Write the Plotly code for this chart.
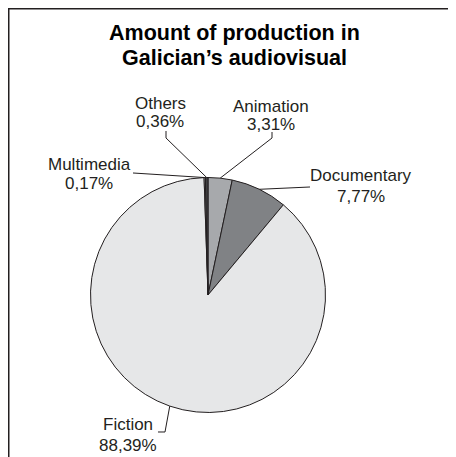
import math
import plotly.graph_objects as go

# the page body adds an 8px margin, so the figure is 8px smaller
W, H = 448, 449
OFF = 8

# Data (clockwise from 12 o'clock)
categories = ["Animation", "Documentary", "Fiction", "Multimedia", "Others"]
shares = [3.31, 7.77, 88.39, 0.17, 0.36]
label_texts = ["3,31%", "7,77%", "88,39%", "0,17%", "0,36%"]
colors = ["#a7a9ac", "#808285", "#e6e7e8", "#f4f4f5", "#414042"]

INK = "#231f20"
FONT = "Liberation Sans, Arial, sans-serif"

# pie geometry in screen pixels
cx, cy, r = 208, 295, 117.5


def px(x):
    return (x - OFF) / W


def py(y):
    return 1 - (y - OFF) / H


def edge_point(name):
    i = categories.index(name)
    start = sum(shares[:i])
    mid = (start + shares[i] / 2) / sum(shares) * 2 * math.pi
    return cx + r * math.sin(mid), cy - r * math.cos(mid)


fig = go.Figure(go.Pie(
    labels=categories,
    values=shares,
    sort=False,
    direction="clockwise",
    rotation=0,
    textinfo="none",
    hoverinfo="label+percent",
    marker=dict(colors=colors, line=dict(color=INK, width=1)),
    domain=dict(x=[px(cx - r), px(cx + r)], y=[py(cy + r), py(cy - r)]),
    showlegend=False,
))

# label line centres and leader-line points near the label (screen pixels)
label_layout = {
    "Others": dict(x=160, y1=102, y2=121, path=[(166, 131), (166, 138)]),
    "Animation": dict(x=271, y1=106, y2=123, path=[(272, 132), (272, 138)]),
    "Multimedia": dict(x=89, y1=163, y2=183, path=[(133, 173)]),
    "Documentary": dict(x=361, y1=174, y2=195, path=[(310, 187)]),
    "Fiction": dict(x=128, y1=423, y2=444, path=[(158, 432), (165, 432)]),
}


def text_ann(x, y, text, size, color=INK):
    return dict(x=px(x), y=py(y), xref="paper", yref="paper", text=text,
                showarrow=False, xanchor="center", yanchor="middle",
                font=dict(family=FONT, size=size, color=color))


annotations = []
shapes = []
for name, txt in zip(categories, label_texts):
    lay = label_layout[name]
    annotations.append(text_ann(lay["x"], lay["y1"] + 1, name, 17))
    annotations.append(text_ann(lay["x"], lay["y2"] + 1, txt, 17))
    pts = lay["path"] + [edge_point(name)]
    d = "M " + " L ".join(f"{px(a):.5f},{py(b):.5f}" for a, b in pts)
    shapes.append(dict(type="path", path=d, xref="paper", yref="paper",
                       line=dict(color=INK, width=1)))

# frame: top and left edges only
shapes.append(dict(type="line", xref="paper", yref="paper",
                   x0=0, x1=1, y0=py(8.5), y1=py(8.5),
                   line=dict(color=INK, width=2)))
shapes.append(dict(type="line", xref="paper", yref="paper",
                   x0=px(8.5), x1=px(8.5), y0=1, y1=0,
                   line=dict(color=INK, width=2)))

# title
annotations.append(text_ann(234, 33, "<b>Amount of production in</b>", 21.5, "#000000"))
annotations.append(text_ann(234, 58, "<b>Galician’s audiovisual</b>", 21.5, "#000000"))

fig.update_layout(
    width=W, height=H,
    margin=dict(l=0, r=0, t=0, b=0),
    paper_bgcolor="white",
    plot_bgcolor="white",
    annotations=annotations,
    shapes=shapes,
)

fig.write_html("out.html")
